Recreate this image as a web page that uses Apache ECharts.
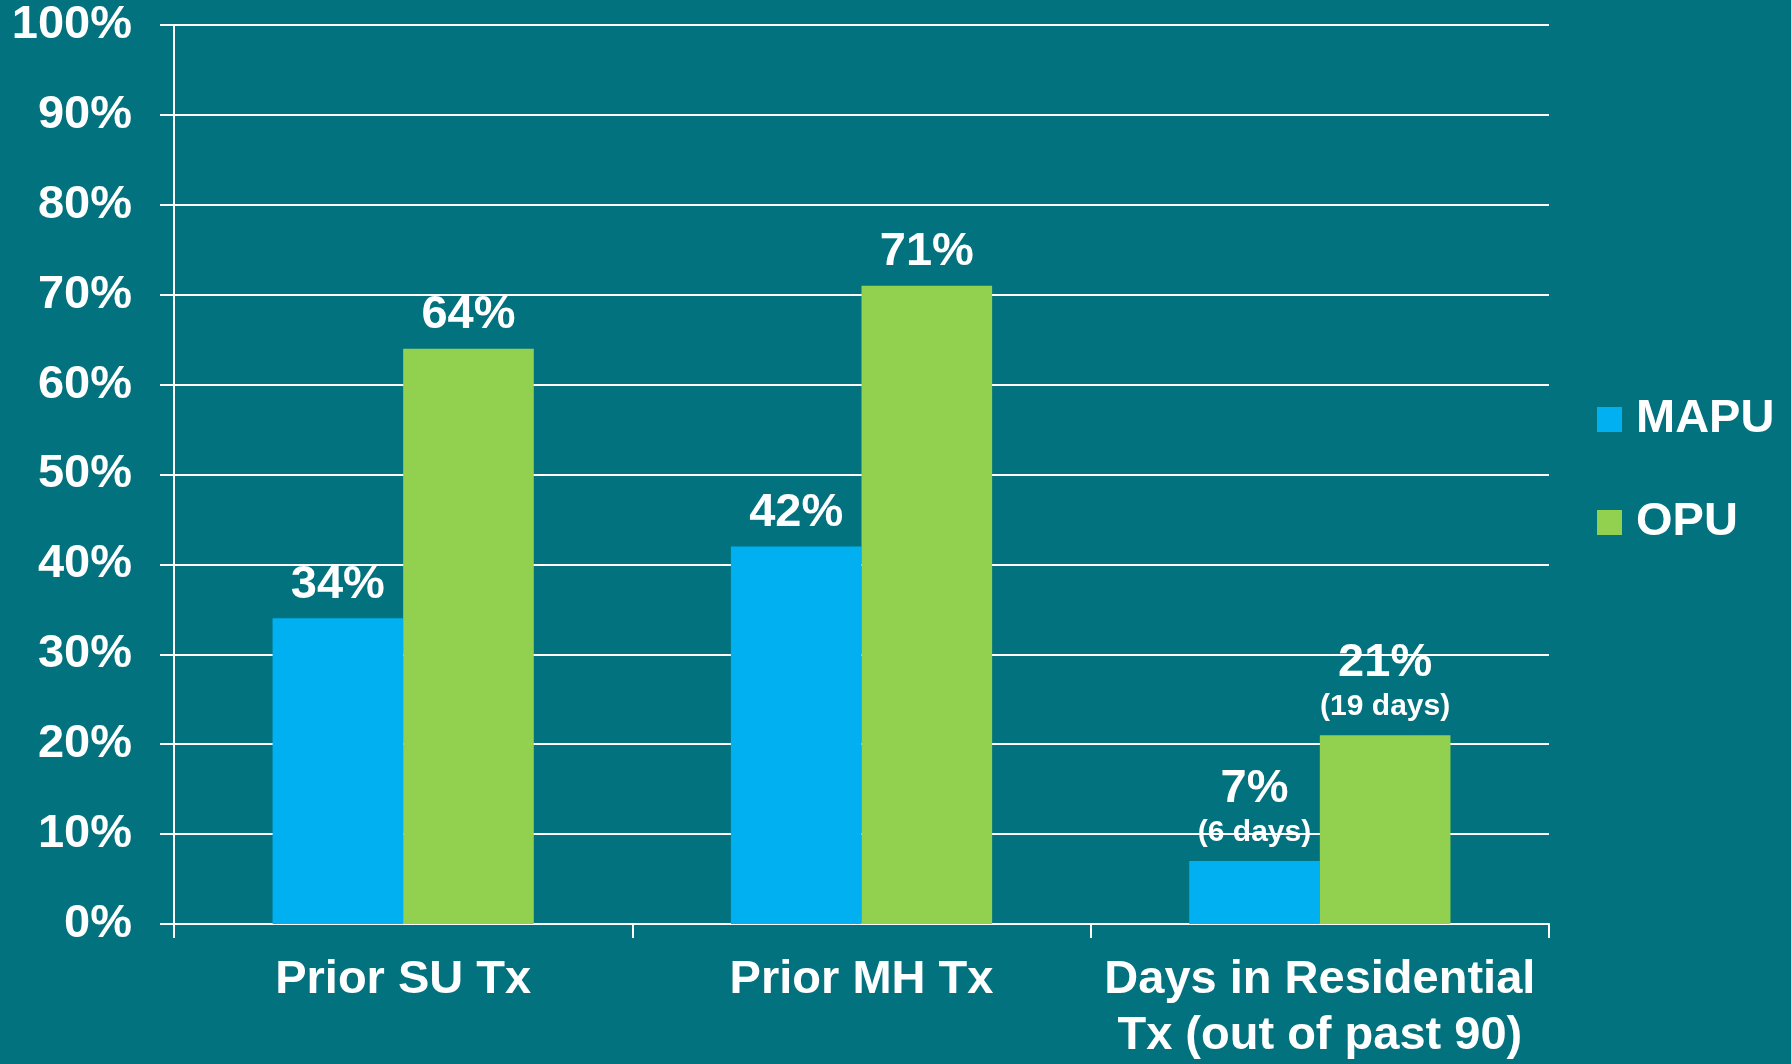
<!DOCTYPE html>
<html>
<head>
<meta charset="utf-8">
<script src="https://cdn.jsdelivr.net/npm/echarts@6/dist/echarts.min.js"></script>
<style>
html,body{margin:0;padding:0;background:#02727E;}
#c{width:1791px;height:1064px;}
</style>
</head>
<body>
<div id="c"></div>
<script>
const categories = ['Prior SU Tx', 'Prior MH Tx', 'Days in Residential\nTx (out of past 90)'];
const seriesNames = ['MAPU', 'OPU'];
const mapuValues = [34, 42, 7];
const opuValues = [64, 71, 21];
const mapuDays = [null, null, 6];
const opuDays = [null, null, 19];
const yTicks = [0, 10, 20, 30, 40, 50, 60, 70, 80, 90, 100];

const FONT = '"Liberation Sans", Arial, sans-serif';
const BLUE = '#00B0F0';
const GREEN = '#92D050';

function buildData(values, days) {
  return values.map((v, i) => {
    const item = { value: v };
    if (days[i] != null) {
      item.label = {
        distance: 5,
        formatter: '{a|' + v + '%}\n{b|(' + days[i] + ' days)}'
      };
    }
    return item;
  });
}

const labelStyle = {
  show: true,
  position: 'top',
  distance: 10,
  color: '#fff',
  fontFamily: FONT,
  fontWeight: 'bold',
  fontSize: 47,
  lineHeight: 47,
  formatter: p => p.value + '%',
  rich: {
    a: { fontFamily: FONT, fontWeight: 'bold', fontSize: 47, lineHeight: 40, color: '#fff' },
    b: { fontFamily: FONT, fontWeight: 'bold', fontSize: 30, lineHeight: 47, color: '#fff' }
  }
};

const chart = echarts.init(document.getElementById('c'), null, { renderer: 'canvas' });
chart.setOption({
  backgroundColor: '#02727E',
  animation: false,
  grid: { left: 174, right: 242, top: 25, bottom: 140, containLabel: false, outerBoundsMode: 'none' },
  legend: {
    orient: 'vertical',
    left: 1592,
    top: 391,
    icon: 'rect',
    itemWidth: 25,
    itemHeight: 25,
    itemGap: 56,
    data: seriesNames,
    textStyle: { color: '#fff', fontFamily: FONT, fontWeight: 'bold', fontSize: 47, lineHeight: 46, padding: [0, 0, 0, 9] }
  },
  xAxis: {
    type: 'category',
    data: categories,
    boundaryGap: true,
    axisLine: { show: true, lineStyle: { color: '#fff', width: 2 } },
    axisTick: { show: true, length: 14, alignWithLabel: false, lineStyle: { color: '#fff', width: 2 } },
    axisLabel: { color: '#fff', fontFamily: FONT, fontWeight: 'bold', fontSize: 47, lineHeight: 56, margin: 28, interval: 0 }
  },
  yAxis: {
    type: 'value',
    min: 0,
    max: 100,
    interval: 10,
    axisLine: { show: true, lineStyle: { color: '#fff', width: 2 } },
    axisTick: { show: true, length: 14, lineStyle: { color: '#fff', width: 2 } },
    splitLine: { show: true, lineStyle: { color: '#fff', width: 2 } },
    axisLabel: {
      color: '#fff', fontFamily: FONT, fontWeight: 'bold', fontSize: 47, margin: 42,
      formatter: v => (yTicks.indexOf(v) >= 0 ? v + '%' : '')
    }
  },
  series: [
    {
      name: seriesNames[0],
      type: 'bar',
      data: buildData(mapuValues, mapuDays),
      itemStyle: { color: BLUE },
      barGap: '0%',
      barCategoryGap: '43%',
      label: labelStyle
    },
    {
      name: seriesNames[1],
      type: 'bar',
      data: buildData(opuValues, opuDays),
      itemStyle: { color: GREEN },
      barGap: '0%',
      barCategoryGap: '43%',
      label: labelStyle
    }
  ]
});
</script>
</body>
</html>
